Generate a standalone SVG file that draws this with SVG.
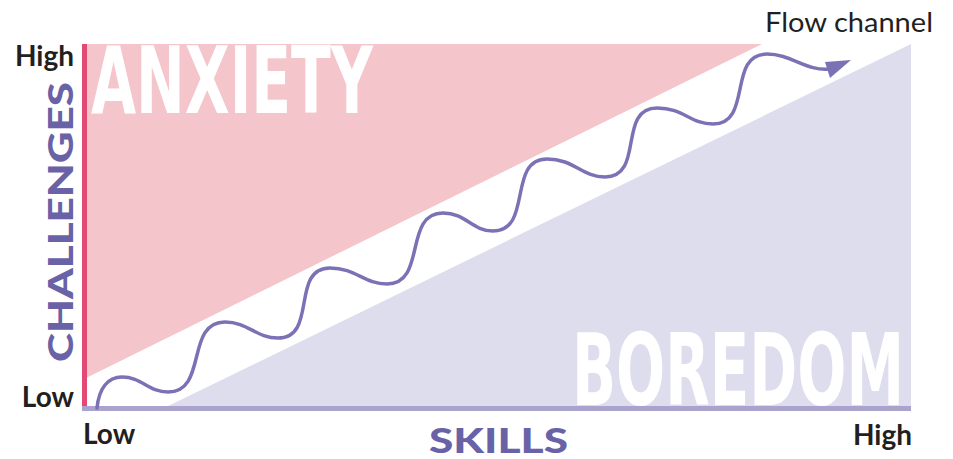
<svg xmlns="http://www.w3.org/2000/svg" width="953" height="459" viewBox="0 0 953 459">
<style>
.lbl{font-family:Lato,"Noto Sans","Liberation Sans",sans-serif;font-weight:700;font-size:28px;fill:#231f20}
.axt{font-family:Lato,"Noto Sans","Liberation Sans",sans-serif;font-weight:900;font-size:35px;fill:#6962a7}
.big{font-family:"DejaVu Sans Condensed","Liberation Sans",sans-serif;font-weight:700;fill:#ffffff}
.wave{fill:none;stroke:#7a72b5;stroke-width:3.5;stroke-linecap:round}
</style>
<rect width="953" height="459" fill="#ffffff"/>
<g id="anxiety-zone">
<polygon points="87,44 762,44 87,377.5" fill="#f4c5ca"/>
<text class="big" x="91" y="113" font-size="93" textLength="282" lengthAdjust="spacingAndGlyphs">ANXIETY</text>
</g>
<g id="boredom-zone">
<polygon points="164,408 911,44 911,408" fill="#dedded"/>
<text class="big" x="572" y="405" font-size="99" textLength="332" lengthAdjust="spacingAndGlyphs">BOREDOM</text>
</g>
<g id="axes">
<rect x="82" y="44" width="5" height="364" fill="#e24a74"/>
<rect x="82" y="406" width="829" height="5" fill="#aaa3cd"/>
</g>
<g id="connectors">
<path class="wave" d="M97,408 C99,388 108,377 122,377 C142,377 148,392 168,392 C208,392 185,322 225,322 C248,322 256,338 278,338 C318,338 290,268 330,268 C356,268 364,284 387,284 C427,284 403,213 443,213 C466,213 472,231 493,231 C533,231 507,159 547,159 C574,159 582,177 605,177 C645,177 617,108 657,108 C684,108 690,124 713,124 C753,124 727,54 767,54 C792,54 806,72 831,69"/>
<polygon points="825,62 851,60 830,78" fill="#7a72b5"/>
</g>
<g id="labels">
<text class="lbl" x="74" y="66" text-anchor="end">High</text>
<text class="lbl" x="74" y="407" text-anchor="end">Low</text>
<text class="lbl" x="83" y="444">Low</text>
<text class="lbl" x="912" y="445" text-anchor="end">High</text>
<text x="765" y="32" font-family="Lato,'Noto Sans','Liberation Sans',sans-serif" font-size="26" fill="#231f20" textLength="168" lengthAdjust="spacingAndGlyphs">Flow channel</text>
<text class="axt" x="429" y="453" textLength="139" lengthAdjust="spacingAndGlyphs">SKILLS</text>
<text class="axt" transform="translate(73,222) rotate(-90)" x="0" y="0" font-size="39" text-anchor="middle" textLength="280" lengthAdjust="spacingAndGlyphs">CHALLENGES</text>
</g>
</svg>
